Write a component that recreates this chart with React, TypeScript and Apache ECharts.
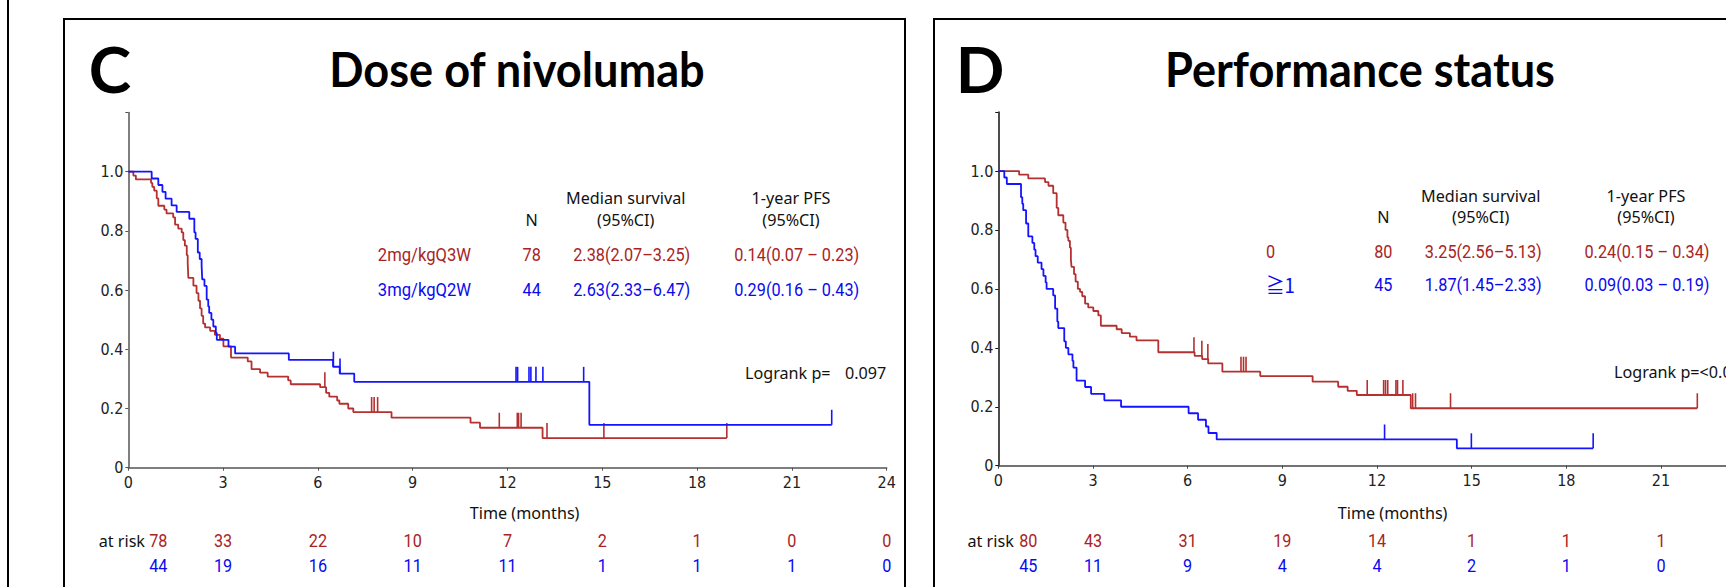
import React, { useEffect, useRef } from "react";
import * as echarts from "echarts";

// ---------- axis ticks ----------
const monthTicks = [0, 3, 6, 9, 12, 15, 18, 21, 24];
const survMax = 1.2;

// ---------- Panel C : Dose of nivolumab ----------
const cRedTimes = [0, 0.16, 0.24, 0.72, 0.76, 0.82, 0.9, 0.95, 1.14, 1.21, 1.42, 1.48, 1.58, 1.69, 1.74, 1.79, 1.85, 1.88, 1.9, 2.06, 2.16, 2.22, 2.27, 2.32, 2.37, 2.43, 2.59, 2.74, 2.9, 3.01, 3.25, 3.78, 3.9, 4.17, 4.41, 5.06, 5.14, 6.07, 6.26, 6.36, 6.61, 6.68, 6.96, 7.12, 8.33, 10.83, 11.13, 13.11, 18.94];
const cRedSurv = [1, 0.987, 0.974, 0.962, 0.949, 0.936, 0.91, 0.885, 0.872, 0.859, 0.846, 0.821, 0.808, 0.795, 0.769, 0.75, 0.718, 0.692, 0.641, 0.615, 0.59, 0.564, 0.538, 0.513, 0.487, 0.474, 0.462, 0.449, 0.436, 0.41, 0.372, 0.359, 0.333, 0.321, 0.308, 0.295, 0.282, 0.272, 0.253, 0.24, 0.227, 0.216, 0.2, 0.188, 0.169, 0.152, 0.135, 0.1, 0.1];
const cRedCensor = [6.22, 7.7, 7.78, 7.89, 11.74, 12.31, 12.35, 12.43, 13.25, 15.05, 18.94];

const cBlueTimes = [0, 0.74, 0.95, 1.08, 1.18, 1.37, 1.53, 1.93, 2.09, 2.13, 2.2, 2.26, 2.32, 2.34, 2.41, 2.48, 2.53, 2.56, 2.63, 2.69, 2.77, 2.8, 3.17, 3.38, 5.08, 6.48, 6.69, 7.15, 14.59, 22.26];
const cBlueSurv = [1, 0.977, 0.955, 0.932, 0.909, 0.886, 0.864, 0.841, 0.795, 0.773, 0.727, 0.705, 0.682, 0.636, 0.614, 0.568, 0.545, 0.523, 0.5, 0.477, 0.455, 0.432, 0.409, 0.386, 0.364, 0.341, 0.318, 0.29, 0.145, 0.145];
const cBlueCensor = [6.49, 6.7, 12.27, 12.32, 12.68, 12.74, 12.9, 13.12, 14.41, 22.26];

const cRiskRed = [78, 33, 22, 10, 7, 2, 1, 0, 0];
const cRiskBlue = [44, 19, 16, 11, 11, 1, 1, 1, 0];
const cGroups = ["2mg/kgQ3W", "3mg/kgQ2W"];
const cN = ["78", "44"];
const cMedian = ["2.38(2.07\u20133.25)", "2.63(2.33\u20136.47)"];
const cPfs = ["0.14(0.07 \u2013 0.23)", "0.29(0.16 \u2013 0.43)"];

// ---------- Panel D : Performance status ----------
const dRedTimes = [0, 0.66, 0.95, 1.48, 1.59, 1.74, 1.85, 1.9, 2.06, 2.13, 2.19, 2.22, 2.27, 2.3, 2.32, 2.4, 2.45, 2.52, 2.59, 2.66, 2.75, 2.85, 3.01, 3.17, 3.25, 3.75, 3.91, 4.17, 4.38, 5.07, 6.22, 6.46, 6.65, 7.1, 8.3, 9.96, 10.77, 11.07, 11.36, 13.07, 22.15];
const dRedSurv = [1, 0.9875, 0.975, 0.9625, 0.95, 0.925, 0.875, 0.85, 0.825, 0.8, 0.775, 0.763, 0.74, 0.7, 0.675, 0.65, 0.625, 0.6, 0.59, 0.575, 0.55, 0.537, 0.525, 0.51, 0.475, 0.463, 0.45, 0.438, 0.425, 0.385, 0.373, 0.362, 0.347, 0.319, 0.304, 0.285, 0.268, 0.254, 0.24, 0.195, 0.195];
const dRedCensor = [6.2, 6.45, 6.64, 7.69, 7.77, 7.85, 11.69, 12.21, 12.27, 12.34, 12.6, 12.65, 12.82, 13.13, 13.22, 14.33, 22.15];

const dBlueTimes = [0, 0.19, 0.27, 0.72, 0.76, 0.79, 0.88, 0.95, 1.08, 1.14, 1.18, 1.25, 1.37, 1.43, 1.5, 1.53, 1.74, 1.8, 1.87, 1.9, 2.09, 2.14, 2.22, 2.35, 2.38, 2.48, 2.75, 2.94, 3.36, 3.89, 6.03, 6.33, 6.58, 6.66, 6.92, 14.53, 18.85];
const dBlueSurv = [1, 0.978, 0.956, 0.911, 0.889, 0.867, 0.822, 0.778, 0.756, 0.733, 0.711, 0.689, 0.667, 0.644, 0.622, 0.6, 0.578, 0.533, 0.489, 0.467, 0.422, 0.4, 0.378, 0.356, 0.333, 0.289, 0.267, 0.244, 0.222, 0.2, 0.178, 0.156, 0.133, 0.111, 0.089, 0.059, 0.059];
const dBlueCensor = [12.24, 14.99, 18.85];

const dRiskRed = [80, 43, 31, 19, 14, 1, 1, 1];
const dRiskBlue = [45, 11, 9, 4, 4, 2, 1, 0];
const dGroups = ["0", "\u22671"];
const dN = ["80", "45"];
const dMedian = ["3.25(2.56\u20135.13)", "1.87(1.45\u20132.33)"];
const dPfs = ["0.24(0.15 \u2013 0.34)", "0.09(0.03 \u2013 0.19)"];

// ---------- styles ----------
const RED = "#B53030";
const RED_TXT = "#A82424";
const BLUE = "#1414FF";
const BLUE_TXT = "#0A0AEE";
const TICK_FONT = "'Liberation Sans Narrow', 'DejaVu Sans Condensed', Roboto, sans-serif";
const HEAD_FONT = "'Noto Sans', sans-serif";
const NUM_FONT = "Roboto, sans-serif";
const TITLE_FONT = "Lato, sans-serif";

function levelAt(times: number[], surv: number[], t: number) {
  let s = surv[0];
  for (let i = 0; i < times.length; i++) if (times[i] <= t) s = surv[i];
  return s;
}

function kmSeries(gi: number, times: number[], surv: number[], color: string) {
  return {
    type: "line",
    xAxisIndex: gi,
    yAxisIndex: gi,
    step: "end",
    symbol: "none",
    silent: true,
    clip: false,
    data: times.map((t, i) => [t, surv[i]]),
    lineStyle: { color, width: 1.8 },
  };
}

function censorSeries(gi: number, times: number[], surv: number[], cens: number[], color: string) {
  return {
    type: "custom",
    xAxisIndex: gi,
    yAxisIndex: gi,
    silent: true,
    clip: false,
    data: cens.map((t) => [t, levelAt(times, surv, t)]),
    renderItem: (_p: any, api: any) => {
      const p = api.coord([api.value(0), api.value(1)]);
      return {
        type: "line",
        shape: { x1: p[0], y1: p[1], x2: p[0], y2: p[1] - 15 },
        style: { stroke: color, lineWidth: 1.6 },
      };
    },
  };
}

function xAxis(gi: number, lineColor: string, showMax: boolean) {
  return {
    type: "value",
    gridIndex: gi,
    min: 0,
    max: 24,
    interval: 3,
    axisLine: { show: true, lineStyle: { color: lineColor, width: 1.5 } },
    axisTick: { show: true, length: 3, lineStyle: { color: lineColor } },
    axisLabel: { color: "#222", fontFamily: TICK_FONT, fontSize: 16, margin: 7, showMaxLabel: showMax, showMinLabel: true },
    splitLine: { show: false },
  };
}

function yAxis(gi: number, lineColor: string) {
  return {
    type: "value",
    gridIndex: gi,
    min: 0,
    max: survMax,
    interval: 0.2,
    axisLine: { show: true, lineStyle: { color: lineColor, width: 1.5 } },
    axisTick: { show: true, length: 3, lineStyle: { color: lineColor } },
    axisLabel: {
      color: "#222",
      fontFamily: TICK_FONT,
      fontSize: 16,
      margin: 5,
      formatter: (v: number) => (v === 0 ? "0" : v > 1.1 ? "" : v.toFixed(1)),
    },
    splitLine: { show: false },
  };
}

function txt(text: string, x: number, y: number, o: any = {}) {
  return {
    type: "text",
    x,
    y,
    scaleX: o.sx ?? 1,
    silent: true,
    style: {
      text,
      fill: o.color ?? "#111",
      fontSize: o.size ?? 16,
      fontFamily: o.family ?? HEAD_FONT,
      fontWeight: o.weight ?? "normal",
      align: o.align ?? "center",
      verticalAlign: "middle",
    },
  };
}

export default function App() {
  const ref = useRef<HTMLDivElement>(null);
  useEffect(() => {
    document.body.style.margin = "0";
    const chart = echarts.init(ref.current!, null, { renderer: "svg" });
    chart.setOption({
      animation: false,
      backgroundColor: "#ffffff",
      grid: [
        { left: 128.3, top: 112.5, width: 758.4, height: 355.2, outerBoundsMode: "none", containLabel: false },
        { left: 998.3, top: 112.1, width: 757.4, height: 353.6, outerBoundsMode: "none", containLabel: false },
      ],
      xAxis: [xAxis(0, "#555", true), xAxis(1, "#444", false)],
      yAxis: [yAxis(0, "#555"), yAxis(1, "#111")],
      series: [
        kmSeries(0, cRedTimes, cRedSurv, RED),
        kmSeries(0, cBlueTimes, cBlueSurv, BLUE),
        censorSeries(0, cRedTimes, cRedSurv, cRedCensor, RED),
        censorSeries(0, cBlueTimes, cBlueSurv, cBlueCensor, BLUE),
        kmSeries(1, dRedTimes, dRedSurv, RED),
        kmSeries(1, dBlueTimes, dBlueSurv, BLUE),
        censorSeries(1, dRedTimes, dRedSurv, dRedCensor, RED),
        censorSeries(1, dBlueTimes, dBlueSurv, dBlueCensor, BLUE),
      ],
    });

    const px = (gi: number, t: number) => (chart.convertToPixel({ gridIndex: gi } as any, [t, 0]) as number[])[0];

    const g: any[] = [];
    // frames
    g.push({ type: "rect", silent: true, shape: { x: 64, y: 19, width: 841, height: 620 }, style: { fill: "none", stroke: "#000", lineWidth: 2 } });
    g.push({ type: "rect", silent: true, shape: { x: 934, y: 19, width: 900, height: 620 }, style: { fill: "none", stroke: "#000", lineWidth: 2 } });
    g.push({ type: "line", silent: true, shape: { x1: 8, y1: 0, x2: 8, y2: 600 }, style: { stroke: "#000", lineWidth: 2 } });

    // titles
    g.push(txt("C", 110, 68, { size: 64, weight: "bold", family: TITLE_FONT, color: "#000" }));
    g.push(txt("Dose of nivolumab", 517, 68, { size: 48, weight: "bold", family: TITLE_FONT, color: "#000", sx: 0.94 }));
    g.push(txt("D", 980, 68, { size: 64, weight: "bold", family: TITLE_FONT, color: "#000" }));
    g.push(txt("Performance status", 1360, 68, { size: 48, weight: "bold", family: TITLE_FONT, color: "#000", sx: 0.94 }));

    const head = { size: 16.5, sx: 0.98 };
    const num = (color: string) => ({ size: 17.5, sx: 0.93, family: NUM_FONT, color });

    // table C
    g.push(txt("N", 531.7, 220, head));
    g.push(txt("Median survival", 625.7, 197.7, head));
    g.push(txt("(95%CI)", 625.7, 220, head));
    g.push(txt("1-year PFS", 791, 197.7, head));
    g.push(txt("(95%CI)", 791, 220, head));
    const cRows = [255, 290];
    const cCols = [RED_TXT, BLUE_TXT];
    cRows.forEach((y, i) => {
      g.push(txt(cGroups[i], 471, y, { ...num(cCols[i]), sx: 0.95, align: "right" }));
      g.push(txt(cN[i], 531.7, y, num(cCols[i])));
      g.push(txt(cMedian[i], 631.7, y, num(cCols[i])));
      g.push(txt(cPfs[i], 796.7, y, num(cCols[i])));
    });
    g.push(txt("Logrank p=", 745, 373, { ...head, align: "left" }));
    g.push(txt("0.097", 845, 373, { ...head, align: "left" }));

    // table D
    g.push(txt("N", 1383.3, 217.3, head));
    g.push(txt("Median survival", 1480.7, 195.7, head));
    g.push(txt("(95%CI)", 1480.7, 217.3, head));
    g.push(txt("1-year PFS", 1646, 195.7, head));
    g.push(txt("(95%CI)", 1646, 217.3, head));
    const dRows = [251.7, 285];
    dRows.forEach((y, i) => {
      g.push(
        txt(dGroups[i], 1266, y, {
          ...num(cCols[i]),
          align: "left",
          size: i === 1 ? 20 : 17.5,
          family: i === 1 ? "'Noto Sans CJK JP', Roboto, sans-serif" : NUM_FONT,
        })
      );
      g.push(txt(dN[i], 1383.3, y, num(cCols[i])));
      g.push(txt(dMedian[i], 1483.3, y, num(cCols[i])));
      g.push(txt(dPfs[i], 1647, y, num(cCols[i])));
    });
    g.push(txt("Logrank p=<0.001", 1614, 371.7, { ...head, align: "left" }));

    // axis titles
    g.push(txt("Time (months)", 524.6, 513, head));
    g.push(txt("Time (months)", 1392.6, 513, head));

    // at risk tables
    const riskRedY = 541;
    const riskBlueY = 566;
    g.push(txt("at risk", 145, riskRedY, { ...head, align: "right" }));
    g.push(txt("at risk", 1013.8, riskRedY, { ...head, align: "right" }));
    const rnum = (color: string) => ({ size: 18, sx: 0.9, family: NUM_FONT, color });
    monthTicks.forEach((t, i) => {
      const off = i === 0 ? 30 : 0;
      const xc = px(0, t) + off;
      g.push(txt(String(cRiskRed[i]), xc, riskRedY, rnum(RED_TXT)));
      g.push(txt(String(cRiskBlue[i]), xc, riskBlueY, rnum(BLUE_TXT)));
      if (i < dRiskRed.length) {
        const xd = px(1, t) + off;
        g.push(txt(String(dRiskRed[i]), xd, riskRedY, rnum(RED_TXT)));
        g.push(txt(String(dRiskBlue[i]), xd, riskBlueY, rnum(BLUE_TXT)));
      }
    });

    chart.setOption({ graphic: { elements: g } });
    return () => chart.dispose();
  }, []);
  return <div ref={ref} style={{ width: 1726, height: 587 }} />;
}
